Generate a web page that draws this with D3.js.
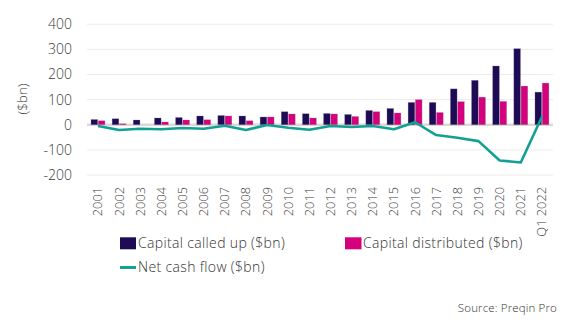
<!DOCTYPE html>
<html>
<head>
<meta charset="utf-8">
<script src="https://cdn.jsdelivr.net/npm/d3@7/dist/d3.min.js"></script>
<style>
  html, body { margin: 0; padding: 0; background: #fff; }
  svg { display: block; font-family: "Open Sans", "Lato", sans-serif; font-weight: 300; }
</style>
</head>
<body>
<svg id="chart" width="573" height="323"></svg>
<script>
const categories = ["2001","2002","2003","2004","2005","2006","2007","2008","2009","2010","2011",
  "2012","2013","2014","2015","2016","2017","2018","2019","2020","2021","Q1 2022"];
const capitalCalled = [21,24,19,27,29,35,37,35,31,52,44,45,41,57,65,89,89,143,177,234,303,130];
const capitalDistributed = [16,4,0,11,19,20,35,16,31,43,27,43,33,52,47,100,49,92,110,93,154,166];
const netCashFlow = [-5,-21,-16,-18,-13,-16,-4,-21,-1,-12,-20,-5,-9,-5,-18,10,-41,-52,-65,-142,-150,32];
const yTicks = [-200,-100,0,100,200,300,400];
const seriesNames = ["Capital called up ($bn)", "Capital distributed ($bn)", "Net cash flow ($bn)"];
const colors = ["#1d0b55", "#d4007c", "#10a192"];

const svg = d3.select("#chart");
const x = d3.scaleBand().domain(categories).range([87.4, 552.5]).padding(0);
const xs = d3.scaleBand().domain([0,1]).range([x.bandwidth()*0.17, x.bandwidth()*0.83]).paddingInner(0.08);
const y = d3.scaleLinear().domain([-200, 400]).range([175, 24.3]);

// gridlines
svg.append("g").selectAll("line").data(yTicks.filter(d => d !== 0)).join("line")
  .attr("x1", 87).attr("x2", 553)
  .attr("y1", d => y(d)).attr("y2", d => y(d))
  .attr("stroke", "#ececec").attr("stroke-width", 1);

// y tick labels
svg.append("g").selectAll("text").data(yTicks).join("text")
  .attr("x", 72).attr("y", d => y(d)).attr("dy", "0.35em")
  .attr("text-anchor", "end").attr("font-size", 14).attr("fill", "#3c3c3c")
  .text(d => d);

// y title
svg.append("text")
  .attr("transform", "translate(27,99) rotate(-90)")
  .attr("text-anchor", "middle").attr("font-size", 13.5).attr("fill", "#3c3c3c")
  .text("($bn)");

// zero line
svg.append("line").attr("x1", 87).attr("x2", 553).attr("y1", y(0)).attr("y2", y(0))
  .attr("stroke", "#dcd8d3").attr("stroke-width", 2.5);

// bars
const groups = svg.append("g").selectAll("g").data(categories).join("g")
  .attr("transform", d => `translate(${x(d)},0)`);
[capitalCalled, capitalDistributed].forEach((arr, si) => {
  groups.append("rect")
    .attr("x", xs(si)).attr("width", xs.bandwidth())
    .attr("y", (d, i) => y(Math.max(0, arr[i])))
    .attr("height", (d, i) => Math.abs(y(arr[i]) - y(0)))
    .attr("fill", colors[si])
    .attr("stroke", "rgba(150,140,170,0.45)").attr("stroke-width", 0.6);
});

// net cash flow line
const line = d3.line().x((d, i) => x(categories[i]) + x.bandwidth()/2).y(d => y(d));
svg.append("path").datum(netCashFlow)
  .attr("d", line).attr("fill", "none")
  .attr("stroke", colors[2]).attr("stroke-width", 2.6).attr("stroke-linejoin", "round");

// x labels
svg.append("g").selectAll("text").data(categories).join("text")
  .attr("transform", d => `translate(${x(d) + x.bandwidth()/2 + 4.5},187) rotate(-90)`)
  .attr("text-anchor", "end").attr("font-size", 12.8).attr("fill", "#3c3c3c")
  .text(d => d);

// legend
const leg = svg.append("g").attr("letter-spacing", 0.35);
leg.append("rect").attr("x", 120).attr("y", 237.3).attr("width", 16).attr("height", 12).attr("fill", colors[0]);
leg.append("text").attr("x", 138).attr("y", 248).attr("font-size", 14).attr("fill", "#333").text(seriesNames[0]);
leg.append("rect").attr("x", 345).attr("y", 237.3).attr("width", 16.5).attr("height", 12).attr("fill", colors[1]);
leg.append("text").attr("x", 363).attr("y", 248).attr("font-size", 14).attr("fill", "#333").text(seriesNames[1]);
leg.append("line").attr("x1", 120).attr("x2", 136).attr("y1", 267.5).attr("y2", 267.5)
  .attr("stroke", colors[2]).attr("stroke-width", 3);
leg.append("text").attr("x", 138).attr("y", 272).attr("font-size", 14).attr("fill", "#333").text(seriesNames[2]);

// source
svg.append("text").attr("x", 557).attr("y", 312).attr("text-anchor", "end")
  .attr("letter-spacing", 0.15)
  .attr("font-size", 11.5).attr("fill", "#333").text("Source: Preqin Pro");
</script>
</body>
</html>
